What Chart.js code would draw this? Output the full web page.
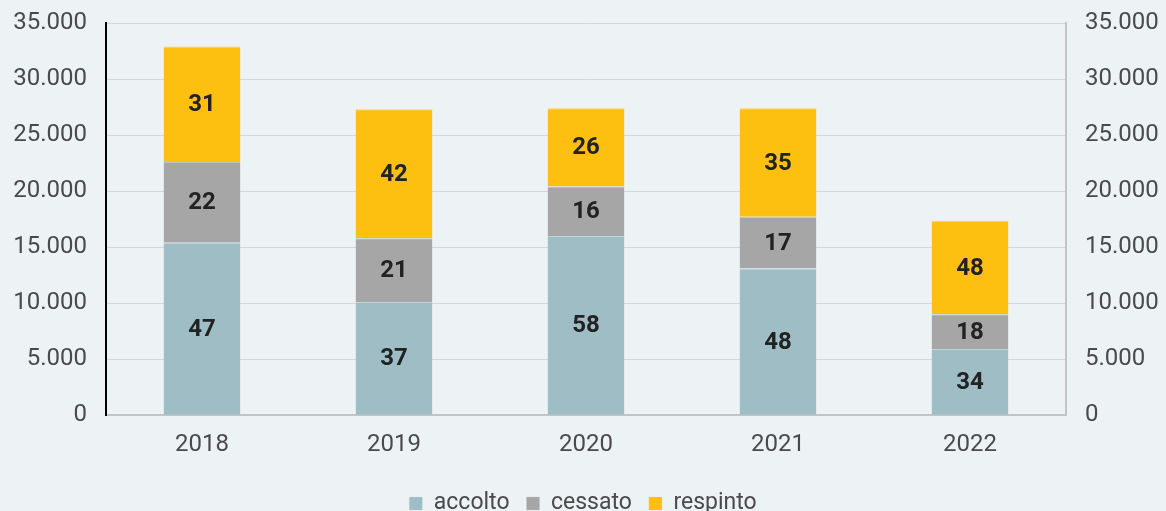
<!DOCTYPE html>
<html>
<head>
<meta charset="utf-8">
<script src="https://cdn.jsdelivr.net/npm/chart.js@4/dist/chart.umd.min.js"></script>
<style>
  html, body { margin: 0; padding: 0; background: #edf2f5; overflow: hidden; }
  #wrap { width: 1166px; height: 511px; overflow: hidden; }
</style>
</head>
<body>
<div id="wrap"><canvas id="chartCanvas" width="1166" height="525"></canvas></div>
<script>
// ======== DATI ========
const anni = ["2018", "2019", "2020", "2021", "2022"];
const accolto = [15400, 10100, 16000, 13100, 5900];
const cessato = [7200, 5700, 4400, 4600, 3100];
const respinto = [10300, 11500, 7000, 9700, 8350];
const tickMax = 35000;
const tickStep = 5000;

const totali = anni.map((_, i) => accolto[i] + cessato[i] + respinto[i]);

// separatore delle migliaia con il punto
function formatNum(v) {
  return String(v).replace(/\B(?=(\d{3})+(?!\d))/g, ".");
}

// Percentuale sul totale dell'anno, scritta al centro di ogni segmento
const percentLabels = {
  id: "percentLabels",
  afterDatasetsDraw(chart) {
    const ctx = chart.ctx;
    ctx.save();
    ctx.font = "bold 24px Roboto";
    ctx.fillStyle = "#222222";
    ctx.textAlign = "center";
    ctx.textBaseline = "middle";
    chart.data.datasets.forEach((ds, di) => {
      chart.getDatasetMeta(di).data.forEach((bar, i) => {
        const pct = Math.round(ds.data[i] / totali[i] * 100);
        const { x, y, base } = bar.getProps(["x", "y", "base"], true);
        ctx.fillText(pct, x, (y + base) / 2 + 1);
      });
    });
    ctx.restore();
  }
};

Chart.defaults.font.family = "Roboto";
Chart.defaults.font.size = 24;
Chart.defaults.color = "#4a4a4a";

// sottile bordo chiaro sopra ogni segmento
const barStyle = { borderWidth: { top: 1 }, borderSkipped: "bottom" };

// larghezza fissa degli assi verticali e margine in alto fisso
function fitY(width) {
  return (s) => {
    s.width = width;
    s.paddingTop = 23;
    s.paddingBottom = 0;
  };
}

new Chart(document.getElementById("chartCanvas"), {
  type: "bar",
  data: {
    labels: anni,
    datasets: [
      { label: "accolto", data: accolto, backgroundColor: "#9fbdc5", borderColor: "#c3d4d9", ...barStyle },
      { label: "cessato", data: cessato, backgroundColor: "#a6a6a6", borderColor: "#c2c2c2", ...barStyle },
      { label: "respinto", data: respinto, backgroundColor: "#fdbf10", borderColor: "#fdcf4f", ...barStyle }
    ]
  },
  options: {
    responsive: false,
    animation: false,
    layout: { padding: 0 },
    datasets: { bar: { barPercentage: 0.4, categoryPercentage: 1 } },
    plugins: {
      legend: {
        position: "bottom",
        labels: { boxWidth: 13, boxHeight: 13, padding: 17, font: { size: 23 } }
      },
      tooltip: { enabled: false }
    },
    scales: {
      x: {
        stacked: true,
        afterFit: (s) => { s.height += 9; },
        grid: { display: false },
        border: { color: "#c4c4c4", width: 2 },
        ticks: { padding: 7 }
      },
      y: {
        stacked: true,
        min: 0,
        max: tickMax,
        afterFit: fitY(106),
        grid: { color: "#d3d7da", drawTicks: false },
        border: { color: "#000000", width: 2 },
        ticks: { stepSize: tickStep, padding: 19, callback: (v) => formatNum(v) }
      },
      y2: {
        position: "right",
        min: 0,
        max: tickMax,
        afterFit: fitY(100),
        grid: { display: false, drawTicks: false },
        border: { color: "#c4c4c4", width: 2 },
        ticks: { stepSize: tickStep, padding: 19, callback: (v) => formatNum(v) }
      }
    }
  },
  plugins: [percentLabels]
});
</script>
</body>
</html>
